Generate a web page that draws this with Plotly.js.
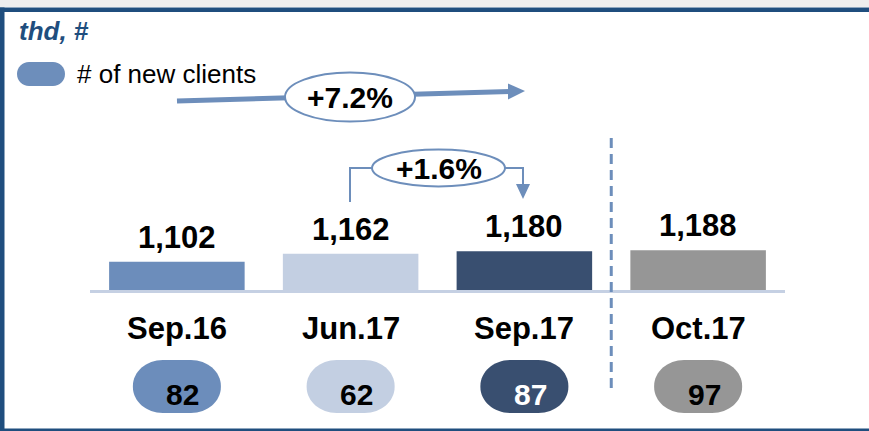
<!DOCTYPE html>
<html>
<head>
<meta charset="utf-8">
<script src="https://cdn.plot.ly/plotly-3.0.1.min.js"></script>
<style>html,body{margin:0;padding:0;background:#fff;}#chart{width:869px;height:431px;}</style>
</head>
<body>
<div id="chart"></div>
<script>
// ---- data ----
const categories = ['Sep.16', 'Jun.17', 'Sep.17', 'Oct.17'];
const clientsThd = [1102, 1162, 1180, 1188];
const newClients = [82, 62, 87, 97];
const changeLabels = ['+7.2%', '+1.6%'];
const unitLabel = 'thd, #';
const legendLabel = '# of new clients';

// ---- styles ----
const barColors = ['#6c8dbb', '#c3cfe2', '#394f70', '#969696'];
const pillTextColors = ['#000000', '#000000', '#ffffff', '#000000'];
const accent = '#6d8ebb';
const frameBlue = '#1f4e7e';
const FONT = 'Liberation Sans, Arial, sans-serif';

const W = 869, H = 431;
const M = {l: 90, r: 84, t: 40, b: 141};
const PW = W - M.l - M.r, PH = H - M.t - M.b;
const plotBottom = H - M.b;
const yMin = 890, unitsPerPx = 7.5;
const yMax = yMin + PH * unitsPerPx;

// pixel -> paper helpers (for decorations only)
const X = px => (px - M.l) / PW;
const Y = py => (plotBottom - py) / PH;
const catCenterPx = i => M.l + (i + 0.5) * PW / categories.length;

function roundedPath(x0, y0, x1, y1, rx, ry) {
  const k = 0.5523;
  const p = (x, y) => X(x) + ',' + Y(y);
  return 'M' + p(x0 + rx, y0) +
    ' L' + p(x1 - rx, y0) +
    ' C' + p(x1 - rx + k * rx, y0) + ' ' + p(x1, y0 + ry - k * ry) + ' ' + p(x1, y0 + ry) +
    ' L' + p(x1, y1 - ry) +
    ' C' + p(x1, y1 - ry + k * ry) + ' ' + p(x1 - rx + k * rx, y1) + ' ' + p(x1 - rx, y1) +
    ' L' + p(x0 + rx, y1) +
    ' C' + p(x0 + rx - k * rx, y1) + ' ' + p(x0, y1 - ry + k * ry) + ' ' + p(x0, y1 - ry) +
    ' L' + p(x0, y0 + ry) +
    ' C' + p(x0, y0 + ry - k * ry) + ' ' + p(x0 + rx - k * rx, y0) + ' ' + p(x0 + rx, y0) + ' Z';
}
function ellipse(cx, cy, rx, ry) {
  return {type: 'circle', xref: 'paper', yref: 'paper', x0: X(cx - rx), x1: X(cx + rx), y0: Y(cy + ry), y1: Y(cy - ry),
    line: {color: accent, width: 2}, fillcolor: '#ffffff', layer: 'above'};
}
function pathShape(d, fill, lineColor, lineWidth) {
  return {type: 'path', xref: 'paper', yref: 'paper', path: d, fillcolor: fill, line: {color: lineColor, width: lineWidth}, layer: 'above'};
}
function polyline(pts) {
  return 'M' + pts.map(q => X(q[0]) + ',' + Y(q[1])).join(' L');
}
function label(obj) {
  return Object.assign({showarrow: false, xanchor: 'center', yanchor: 'middle'}, obj);
}

const trace = {
  type: 'bar', x: categories, y: clientsThd,
  marker: {color: barColors, line: {width: 0}},
  hoverinfo: 'skip', showlegend: false
};

const shapes = [];
const annotations = [];

// frame
shapes.push({type: 'rect', xref: 'paper', yref: 'paper', x0: X(0), x1: X(W), y0: Y(0), y1: Y(7), fillcolor: '#eeeeee', line: {width: 0}, layer: 'below'});
shapes.push({type: 'rect', xref: 'paper', yref: 'paper', x0: X(0), x1: X(W), y0: Y(7.5), y1: Y(12), fillcolor: frameBlue, line: {width: 0}, layer: 'below'});
shapes.push({type: 'rect', xref: 'paper', yref: 'paper', x0: X(0), x1: X(4.5), y0: Y(7.5), y1: Y(H), fillcolor: frameBlue, line: {width: 0}, layer: 'below'});
shapes.push({type: 'rect', xref: 'paper', yref: 'paper', x0: X(0), x1: X(W), y0: Y(428.5), y1: Y(H), fillcolor: frameBlue, line: {width: 0}, layer: 'below'});

// divider
shapes.push({type: 'line', xref: 'x', yref: 'paper', x0: 2.5, x1: 2.5, y0: Y(388), y1: Y(137),
  line: {color: accent, width: 3, dash: '10px,6px'}, layer: 'above'});

// title + legend
annotations.push(label({xref: 'paper', yref: 'paper', x: X(17), y: Y(31), xanchor: 'left',
  text: '<b><i>' + unitLabel + '</i></b>', font: {family: FONT, size: 26, color: frameBlue}}));
shapes.push(pathShape(roundedPath(17, 62, 65, 86, 12, 12), accent, accent, 0));
annotations.push(label({xref: 'paper', yref: 'paper', x: X(75), y: Y(74), xanchor: 'left',
  text: legendLabel, font: {family: FONT, size: 26, color: '#000'}}));

// labels, pills
categories.forEach((c, i) => {
  annotations.push(label({x: c, y: clientsThd[i], xref: 'x', yref: 'y', yanchor: 'bottom', yshift: 5,
    text: '<b>' + clientsThd[i].toLocaleString('en-US') + '</b>', font: {family: FONT, size: 31, color: '#000'}}));
  annotations.push(label({x: c, xref: 'x', yref: 'paper', y: Y(328),
    text: '<b>' + c + '</b>', font: {family: FONT, size: 31, color: '#000'}}));
  const cx = catCenterPx(i);
  shapes.push(pathShape(roundedPath(cx - 44, 360, cx + 44, 413, 30, 26), barColors[i], barColors[i], 0));
  annotations.push(label({x: c, xref: 'x', yref: 'paper', y: Y(394), xshift: 6,
    text: '<b>' + newClients[i] + '</b>', font: {family: FONT, size: 30, color: pillTextColors[i]}}));
});

// +7.2% arrow (Sep.16 -> Oct.17 trend)
shapes.push(pathShape(polyline([[177, 101], [510, 91.5]]), 'rgba(0,0,0,0)', accent, 5));
shapes.push(pathShape(polyline([[508, 83.5], [525, 91], [508, 99.5]]) + ' Z', accent, accent, 0));
shapes.push(ellipse(350, 97, 65, 24.5));
annotations.push(label({xref: 'paper', yref: 'paper', x: X(350), y: Y(97),
  text: '<b>' + changeLabels[0] + '</b>', font: {family: FONT, size: 30, color: '#000'}}));

// +1.6% bracket (Jun.17 -> Sep.17)
shapes.push(pathShape(polyline([[350, 202], [350, 168], [372, 168]]), 'rgba(0,0,0,0)', accent, 2));
shapes.push(pathShape(polyline([[505, 168], [523, 168], [523, 186]]), 'rgba(0,0,0,0)', accent, 2));
shapes.push(pathShape(polyline([[516, 184], [523, 199], [530, 184]]) + ' Z', accent, accent, 0));
shapes.push(ellipse(438.5, 168, 66.5, 18.5));
annotations.push(label({xref: 'paper', yref: 'paper', x: X(438.5), y: Y(168),
  text: '<b>' + changeLabels[1] + '</b>', font: {family: FONT, size: 30, color: '#000'}}));

const layout = {
  width: W, height: H,
  margin: M,
  paper_bgcolor: '#ffffff', plot_bgcolor: 'rgba(0,0,0,0)',
  bargap: 0.22,
  xaxis: {type: 'category', showline: true, linecolor: '#c5d0e3', linewidth: 3, showticklabels: false, ticks: '', showgrid: false, zeroline: false, fixedrange: true},
  yaxis: {range: [yMin, yMax], visible: false, showgrid: false, zeroline: false, fixedrange: true},
  shapes: shapes, annotations: annotations,
  font: {family: FONT}
};

Plotly.newPlot('chart', [trace], layout, {displayModeBar: false, staticPlot: true});
</script>
</body>
</html>
